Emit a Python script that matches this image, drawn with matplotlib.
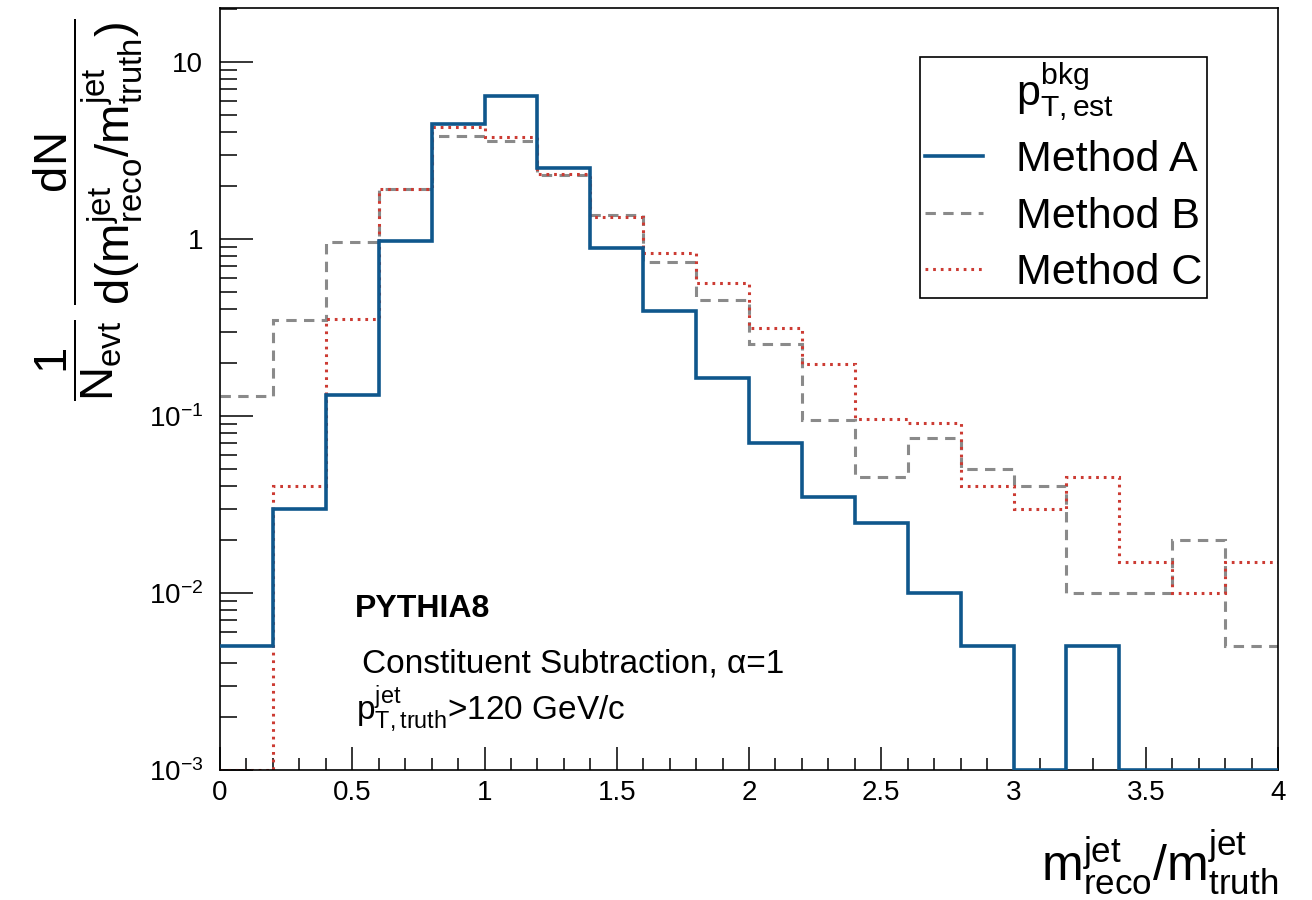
import numpy as np
import matplotlib
matplotlib.use("Agg")
import matplotlib.pyplot as plt
from matplotlib.lines import Line2D
from matplotlib.ticker import FixedLocator, MultipleLocator, LogLocator, NullFormatter

plt.rcParams['font.family'] = ['Liberation Sans', 'DejaVu Sans']
plt.rcParams['mathtext.fontset'] = 'custom'
plt.rcParams['mathtext.rm'] = 'Liberation Sans'
plt.rcParams['mathtext.it'] = 'Liberation Sans:italic'
plt.rcParams['mathtext.bf'] = 'Liberation Sans:bold'
plt.rcParams['mathtext.default'] = 'rm'

# ---- data ----
bin_edges = np.round(np.arange(0, 4.0001, 0.2), 2)
method_a = [0.005, 0.030, 0.131, 0.98, 4.47, 6.43, 2.52, 0.89, 0.39, 0.164,
            0.070, 0.035, 0.025, 0.010, 0.005, 0.0, 0.005, 0.0, 0.0, 0.0]
method_b = [0.13, 0.35, 0.96, 1.92, 3.82, 3.58, 2.30, 1.37, 0.74, 0.45,
            0.255, 0.095, 0.045, 0.075, 0.050, 0.040, 0.010, 0.010, 0.020, 0.005]
method_c = [0.0, 0.040, 0.353, 1.92, 4.29, 3.77, 2.32, 1.33, 0.834, 0.564,
            0.314, 0.197, 0.096, 0.091, 0.040, 0.030, 0.045, 0.015, 0.010, 0.015]
series_labels = ['Method A', 'Method B', 'Method C']
legend_title = r'$p^{bkg}_{T,est}$'
y_ticks = [1e-3, 1e-2, 1e-1, 1, 10]
y_tick_labels = [r'$10^{-3}$', r'$10^{-2}$', r'$10^{-1}$', '1', '10']
x_ticks = [0, 0.5, 1, 1.5, 2, 2.5, 3, 3.5, 4]
x_tick_labels = ['0', '0.5', '1', '1.5', '2', '2.5', '3', '3.5', '4']
YMIN, YMAX = 1e-3, 20.2

# ---- styles ----
c_a, c_b, c_c = '#0f578c', '#8a8a8a', '#cc3b33'
styles = [dict(color=c_a, lw=2.6, ls='-'),
          dict(color=c_b, lw=2.2, ls=(0, (3.4, 2.4))),
          dict(color=c_c, lw=2.2, ls=(0, (0.9, 1.6)))]

fig = plt.figure(figsize=(13.12, 9), dpi=100)
ax = fig.add_axes([220/1312, 130/900, 1058/1312, 762/900])

for vals, st in zip([method_a, method_b, method_c], styles):
    v = np.clip(np.asarray(vals, float), YMIN, None)
    ax.stairs(v, bin_edges, baseline=None, color=st['color'], linewidth=st['lw'],
              linestyle=st['ls'], zorder=3 if st['color'] == c_a else 2)

ax.set_yscale('log')
ax.set_xlim(0, 4)
ax.set_ylim(YMIN, YMAX)

ax.xaxis.set_major_locator(FixedLocator(x_ticks))
ax.set_xticklabels(x_tick_labels)
ax.xaxis.set_minor_locator(MultipleLocator(0.1))
ax.yaxis.set_major_locator(FixedLocator(y_ticks))
ax.set_yticklabels(y_tick_labels)
ax.yaxis.set_minor_locator(LogLocator(base=10, subs=np.arange(2, 10), numticks=20))
ax.yaxis.set_minor_formatter(NullFormatter())

for s in ax.spines.values():
    s.set_linewidth(1.2)
ax.tick_params(axis='x', which='major', direction='in', length=16.5, width=1.1,
               labelsize=20, pad=7, top=False)
ax.tick_params(axis='x', which='minor', direction='in', length=8.6, width=1.1, top=False)
ax.tick_params(axis='y', which='major', direction='in', length=23.5, width=1.1,
               labelsize=20, pad=12, right=False)
ax.tick_params(axis='y', which='minor', direction='in', length=12, width=1.1, right=False)

# legend (title written as a header row, as in the ROOT legend)
handles = [Line2D([], [], linestyle='none')]
handles += [Line2D([], [], color=st['color'], lw=st['lw'], ls=st['ls']) for st in styles]
labels = [legend_title] + series_labels
leg = ax.legend(handles, labels, loc='upper right',
                bbox_to_anchor=(0.933, 0.936), fontsize=31,
                frameon=True, fancybox=False, edgecolor='black', framealpha=1,
                handlelength=1.35, handletextpad=0.75, borderpad=0.12,
                labelspacing=0.38, borderaxespad=0)
leg.get_frame().set_linewidth(1.2)

# annotations
ax.text(0.1276, 0.2008, 'PYTHIA8', transform=ax.transAxes, fontsize=23,
        fontweight='bold', ha='left', va='baseline')
ax.text(0.134, 0.1286, 'Constituent Subtraction, α=1', transform=ax.transAxes,
        fontsize=24, ha='left', va='baseline')
ax.text(0.129, 0.0656, r'$p^{jet}_{T,truth}$>120 GeV/c', transform=ax.transAxes,
        fontsize=24, ha='left', va='baseline')

# axis titles
fig.text(1278/1312, 18/900, r'$m^{jet}_{reco}/m^{jet}_{truth}$', fontsize=36,
         ha='right', va='baseline')
fig.text(88/1312, 1 - 210/900,
         r'$\dfrac{1}{N_{evt}}\;\dfrac{dN}{d(m^{jet}_{reco}/m^{jet}_{truth})}$',
         fontsize=34, rotation=90, ha='center', va='center')

fig.savefig('out.png', dpi=100)
